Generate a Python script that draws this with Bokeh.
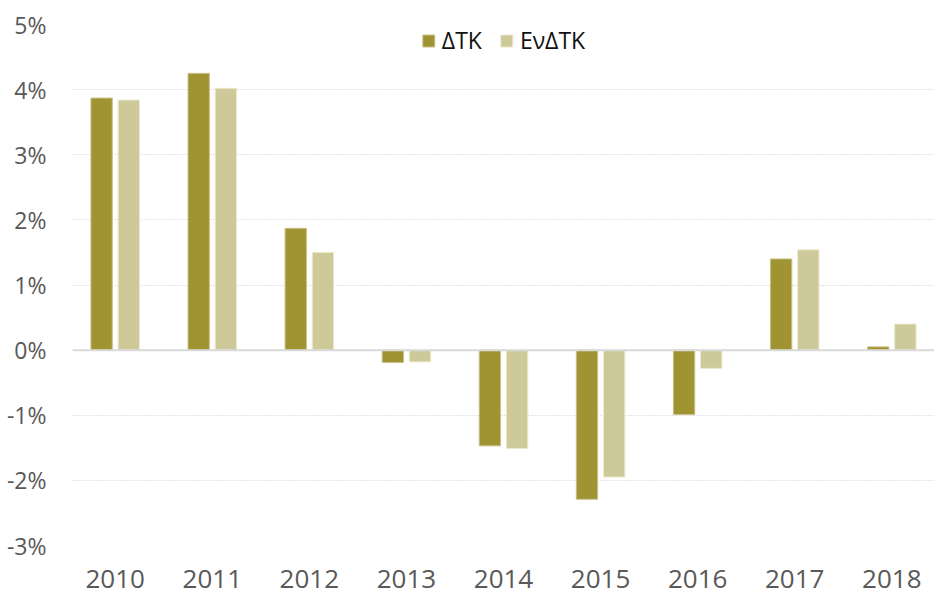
from bokeh.plotting import figure
from bokeh.models import ColumnDataSource, FactorRange, FixedTicker, PrintfTickFormatter, Span, Legend, LegendItem
from bokeh.transform import dodge
from bokeh.embed import file_html
from bokeh.resources import INLINE

years = ["2010", "2011", "2012", "2013", "2014", "2015", "2016", "2017", "2018"]
dtk = [3.87, 4.25, 1.87, -0.19, -1.47, -2.29, -0.99, 1.40, 0.05]
endtk = [3.84, 4.02, 1.50, -0.18, -1.51, -1.95, -0.28, 1.54, 0.40]
series_names = ["ΔΤΚ", "ΕνΔΤΚ"]
y_ticks = [-3, -2, -1, 0, 1, 2, 3, 4, 5]

DARK = "#A09332"
LIGHT = "#CDC998"
FONT = "Open Sans"

src = ColumnDataSource(dict(year=years, dtk=dtk, endtk=endtk))

p = figure(width=934, height=595, output_backend="svg", toolbar_location=None,
           x_range=FactorRange(*years, range_padding=-0.06, range_padding_units="absolute"),
           y_range=(-3, 5),
           min_border_left=72, min_border_right=0, min_border_top=24, min_border_bottom=50)

r1 = p.vbar(x=dodge("year", -0.14, range=p.x_range), top="dtk", bottom=0, width=0.22, source=src,
            fill_color=DARK, line_color="#C9C08A", line_width=1)
r2 = p.vbar(x=dodge("year", 0.14, range=p.x_range), top="endtk", bottom=0, width=0.22, source=src,
            fill_color=LIGHT, line_color="#ECE8CC", line_width=1)

p.add_layout(Span(location=0, dimension="width", line_color="#D9D9D9", line_width=2, level="overlay"))

p.outline_line_color = None
p.xgrid.grid_line_color = None
p.ygrid.grid_line_color = "#C8C8C8"
p.ygrid.grid_line_dash = "1 2"
p.ygrid.grid_line_width = 1

p.yaxis.ticker = FixedTicker(ticks=y_ticks)
p.yaxis.formatter = PrintfTickFormatter(format="%d%%")
for ax in (p.xaxis[0], p.yaxis[0]):
    ax.axis_line_color = None
    ax.major_tick_line_color = None
    ax.minor_tick_line_color = None
    ax.major_tick_out = 0
    ax.major_tick_in = 0
    ax.major_label_text_font = FONT
    ax.major_label_text_color = "#595959"
p.yaxis.major_label_text_font_size = "23px"
p.xaxis.major_label_text_font_size = "26px"
p.yaxis.major_label_standoff = 26
p.xaxis.major_label_standoff = 24

legend = Legend(items=[LegendItem(label=series_names[0], renderers=[r1]),
                       LegendItem(label=series_names[1], renderers=[r2])],
                location="top_center", orientation="horizontal")
legend.background_fill_alpha = 0
legend.border_line_color = None
legend.label_text_font = FONT
legend.label_text_font_size = "23px"
legend.label_text_color = "#111111"
legend.glyph_width = 15
legend.glyph_height = 15
legend.spacing = 17
legend.label_standoff = 6
legend.margin = 0
legend.padding = 0
p.add_layout(legend)

open("out.html", "w").write(file_html(p, INLINE))
